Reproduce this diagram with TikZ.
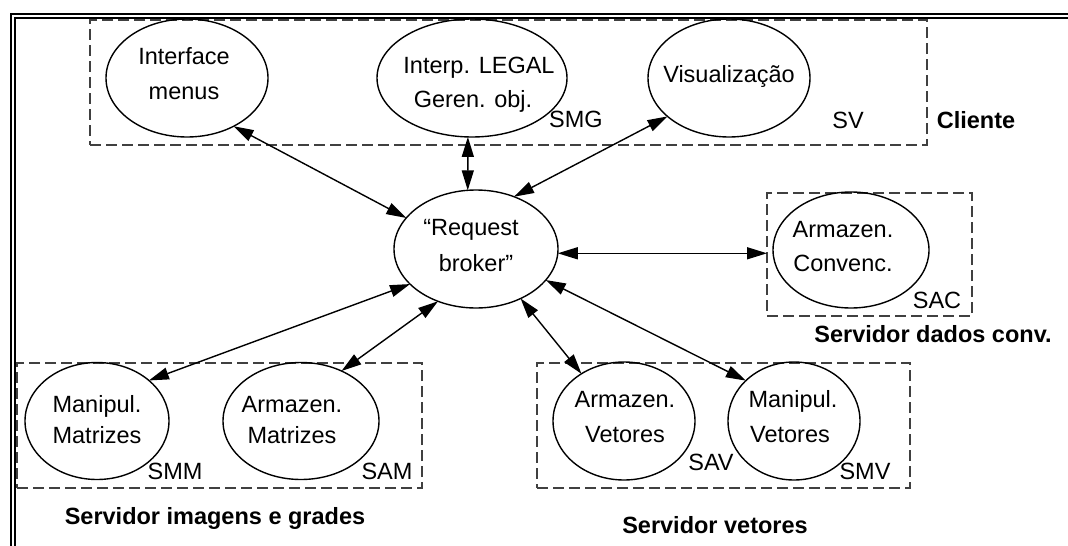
\documentclass[tikz,border=0pt]{standalone}
\usepackage{fontspec}
\setmainfont{Liberation Sans}
\usetikzlibrary{shapes.geometric,arrows.meta}
\begin{document}
\begin{tikzpicture}[x=1pt,y=-1pt,
  proc/.style={ellipse,draw,line width=1.4pt,inner sep=0pt,outer sep=0pt},
  grp/.style={rectangle,draw=black!75,dash pattern=on 11pt off 5pt,line width=1.1pt,inner sep=0pt,outer sep=0pt},
  txt/.style={font=\fontsize{23.5}{28}\selectfont,anchor=base,inner sep=0pt},
  ttl/.style={txt,font=\fontsize{23.5}{28}\selectfont\bfseries},
  link/.style={<->,line width=1.4pt,>={Triangle[length=20pt,width=12pt]}},
  frm/.style={line width=2.2pt}]
\useasboundingbox (0,0) rectangle (1068,546);

% double frame along the top and left edges
\draw[frm] (1068,14) -- (11,14) -- (11,546);
\draw[frm] (1068,18) -- (15,18) -- (15,546);

% server groups
\node[grp,minimum width=837pt,minimum height=125pt] (cli) at (508.5,82.5) {};
\node[grp,minimum width=205pt,minimum height=123pt] (sacbox) at (869.5,254.5) {};
\node[grp,minimum width=405pt,minimum height=125pt] (sig) at (219.5,425.5) {};
\node[grp,minimum width=373pt,minimum height=125pt] (sve) at (723.5,425.5) {};

% processes
\node[proc,minimum width=162pt,minimum height=118pt] (ifm) at (187,78) {};
\node[proc,minimum width=190pt,minimum height=118pt] (igo) at (472,78) {};
\node[proc,minimum width=162pt,minimum height=118pt] (vis) at (729,78) {};
\node[proc,minimum width=164pt,minimum height=118pt] (rb)  at (476,249) {};
\node[proc,minimum width=156pt,minimum height=116pt] (sac) at (851,250) {};
\node[proc,minimum width=144pt,minimum height=117pt] (mm)  at (97,421) {};
\node[proc,minimum width=156pt,minimum height=117pt] (am)  at (301,421) {};
\node[proc,minimum width=142pt,minimum height=118pt] (av)  at (624,421) {};
\node[proc,minimum width=132pt,minimum height=118pt] (mv)  at (794,421) {};

% process labels
\node[txt] (ifm1) at (184,64)  {Interface};
\node[txt] (ifm2) at (184,99)  {menus};
\node[txt] (igo1) at (479,73)  {Interp. LEGAL};
\node[txt] (igo2) at (473,107) {Geren. obj.};
\node[txt] (vis1) at (729,82)  {Visualização};
\node[txt] (rb1)  at (471,235) {“Request};
\node[txt] (rb2)  at (476,271) {broker”};
\node[txt] (sac1) at (843,237) {Armazen.};
\node[txt] (sac2) at (843,271) {Convenc.};
\node[txt] (mm1)  at (97,412)  {Manipul.};
\node[txt] (mm2)  at (97,443)  {Matrizes};
\node[txt] (am1)  at (292,412) {Armazen.};
\node[txt] (am2)  at (292,443) {Matrizes};
\node[txt] (av1)  at (625,407) {Armazen.};
\node[txt] (av2)  at (625,442) {Vetores};
\node[txt] (mv1)  at (793,407) {Manipul.};
\node[txt] (mv2)  at (790,442) {Vetores};

% server codes
\node[txt] (smg) at (576,127) {SMG};
\node[txt] (sv)  at (848,128) {SV};
\node[txt] (sacc) at (937,308) {SAC};
\node[txt] (smm) at (175,479) {SMM};
\node[txt] (sam) at (387,479) {SAM};
\node[txt] (sav) at (711,470) {SAV};
\node[txt] (smv) at (865,479) {SMV};

% group titles
\node[ttl] (tcli) at (976,128) {Cliente};
\node[ttl] (tsac) at (933,342) {Servidor dados conv.};
\node[ttl] (tsig) at (215,524) {Servidor imagens e grades};
\node[ttl] (tsve) at (715,533) {Servidor vetores};

% requests through the broker
\draw[link] (ifm.-46.8) -- (rb.156.6);
\draw[link] (igo.-94.8) -- (rb.98.7);
\draw[link] (vis.-148) -- (rb.54);
\draw[link] (rb.-3) -- (rb.-3 -| sacbox.west);
\draw[link] (mm.38) -- (rb.-152.7);
\draw[link] (am.51.6) -- (rb.-126.7);
\draw[link] (av.132.7) -- (rb.-48);
\draw[link] (mv.140.5) -- (rb.-24.6);
\end{tikzpicture}
\end{document}
